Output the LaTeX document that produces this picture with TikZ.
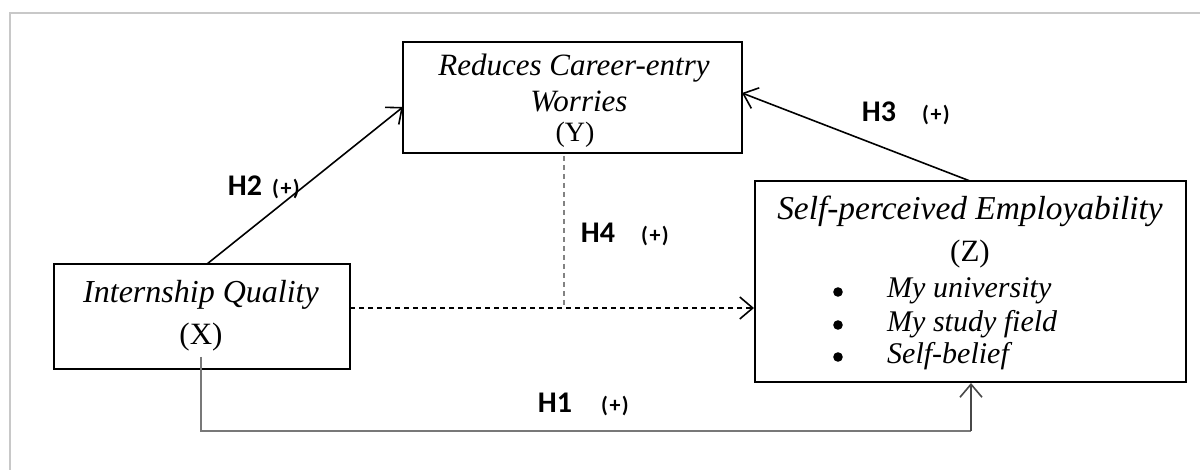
\documentclass[tikz,border=0pt]{standalone}
\usepackage{fontspec}
\setmainfont{Liberation Serif}
\newfontfamily\labfont{Carlito}
\usetikzlibrary{arrows.meta}
\definecolor{framegray}{RGB}{200,200,200}
\definecolor{h1gray}{RGB}{120,120,120}
\definecolor{h4gray}{RGB}{130,130,130}
\tikzset{
  box/.style={draw=black, line width=2pt, rectangle, inner sep=0pt},
  txt/.style={inner sep=0pt, anchor=base},
  lab/.style={inner sep=0pt, anchor=base, font=\labfont\bfseries\fontsize{30}{34}\selectfont},
  plus/.style={inner sep=0pt, anchor=base, font=\labfont\bfseries\fontsize{22}{26}\selectfont},
  tip/.style={-{Straight Barb[length=13pt,width=22pt,line width=1.6pt]}},
}
\newcommand{\pl}{(\kern1.5pt+\kern1.5pt)}
\begin{document}
\begin{tikzpicture}[x=1pt,y=-1pt]
\useasboundingbox (0,0) rectangle (1200,470);
\fill[white] (0,0) rectangle (1200,470);
% outer frame
\draw[framegray, line width=1.5pt] (10,470) -- (10,13) -- (1200,13);
% boxes
\node[box, minimum width=339pt, minimum height=111pt] (Y) at (572.5,97.5) {};
\node[box, minimum width=431pt, minimum height=201pt] (Z) at (970.5,281.5) {};
\node[box, minimum width=296pt, minimum height=105pt] (X) at (202,316.5) {};
% texts Y
\node[txt, font=\fontsize{31}{34}\selectfont\itshape] (y1) at (574,76) {Reduces Career-entry};
\node[txt, font=\fontsize{31}{34}\selectfont\itshape] (y2) at (579,112) {Worries};
\node[txt, font=\fontsize{28}{32}\selectfont] (y3) at (575,142) {(Y)};
% texts X
\node[txt, font=\fontsize{32}{36}\selectfont\itshape] (x1) at (201,303) {Internship Quality};
\node[txt, font=\fontsize{31}{36}\selectfont] (x2) at (201,345) {(X)};
% texts Z
\node[txt, font=\fontsize{33.4}{38}\selectfont\itshape] (z1) at (970,220) {Self-perceived Employability};
\node[txt, font=\fontsize{31}{36}\selectfont] (z2) at (970,262) {(Z)};
\node[txt, anchor=base west, font=\fontsize{30}{34}\selectfont\itshape] (z3) at (887,298) {My university};
\node[txt, anchor=base west, font=\fontsize{30}{34}\selectfont\itshape] (z4) at (887,332) {My study field};
\node[txt, anchor=base west, font=\fontsize{30}{34}\selectfont\itshape] (z5) at (887,363) {Self-belief};
\fill (838,292) circle (4.8pt);
\fill (838,325) circle (4.8pt);
\fill (838,357) circle (4.8pt);
% coordinates
\coordinate (x2top) at (207,264);
\coordinate (y2left) at (403,107);
\coordinate (ztop) at (970,181);
\coordinate (yright) at (742,93);
\coordinate (xright) at (350,308);
\coordinate (zleft) at (754,308);
\coordinate (ybot) at (564,156);
\coordinate (h4end) at (564,308);
\coordinate (x1start) at (201,357);
\coordinate (h1c1) at (201,431);
\coordinate (h1c2) at (971,431);
\coordinate (zbot) at (971,383);
% connectors
\draw[tip, line width=1.6pt] (x2top) -- (y2left);
\draw[tip, line width=1.6pt] (ztop) -- (yright);
\draw[tip, line width=1.6pt, dash pattern=on 5pt off 4pt] (xright) -- (zleft);
\draw[h4gray, line width=1.1pt, dash pattern=on 5pt off 4pt] (ybot) -- (h4end);
\draw[h1gray, line width=1.6pt] (x1start) -- (h1c1) -- (h1c2);
\draw[tip, h1gray!60!black, line width=1.6pt] (h1c2) -- (zbot);
% labels
\node[lab] (H2) at (245,196) {H2};
\node[plus] (P2) at (286,196) {\pl};
\node[lab] (H3) at (879,122) {H3};
\node[plus] (P3) at (936,122) {\pl};
\node[lab] (H4) at (598,243) {H4};
\node[plus] (P4) at (655,243) {\pl};
\node[lab] (H1) at (555,413) {H1};
\node[plus] (P1) at (615,413) {\pl};
\end{tikzpicture}
\end{document}
